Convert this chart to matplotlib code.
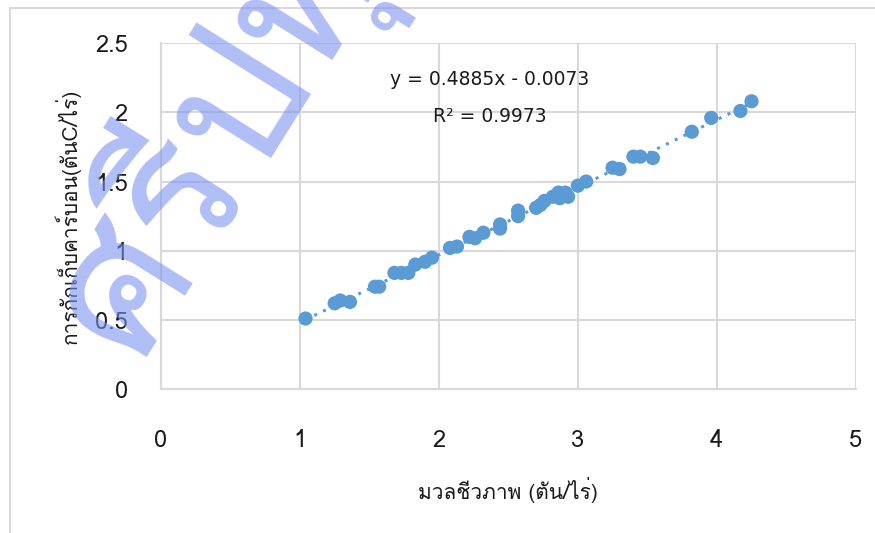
import numpy as np
import matplotlib
matplotlib.use("Agg")
import matplotlib.pyplot as plt
from matplotlib import font_manager
from matplotlib.ft2font import FT2Font
from matplotlib.patches import Rectangle

# biomass (ton/rai) vs carbon storage (ton C/rai)
biomass = [1.04, 1.25, 1.29, 1.36, 1.54, 1.57, 1.68, 1.73, 1.78, 1.83, 1.90, 1.95,
           2.08, 2.13, 2.22, 2.26, 2.32, 2.44, 2.44, 2.57, 2.57, 2.70, 2.73, 2.76,
           2.82, 2.86, 2.87, 2.91, 2.93, 3.00, 3.06, 3.25, 3.30, 3.40, 3.45, 3.54,
           3.82, 3.96, 4.17, 4.25]
carbon = [0.51, 0.62, 0.64, 0.63, 0.74, 0.74, 0.84, 0.84, 0.84, 0.90, 0.92, 0.95,
          1.02, 1.03, 1.10, 1.09, 1.13, 1.16, 1.19, 1.29, 1.25, 1.31, 1.33, 1.36,
          1.39, 1.42, 1.38, 1.42, 1.39, 1.47, 1.50, 1.60, 1.59, 1.68, 1.68, 1.67,
          1.86, 1.96, 2.01, 2.08]
slope, intercept = 0.4885, -0.0073
eq_text = "y = 0.4885x - 0.0073"
r2_text = "R² = 0.9973"
xlabel = "มวลชีวภาพ (ตัน/ไร่)"
ylabel = "การกักเก็บคาร์บอน(ตันC/ไร่)"
watermark = "ศรีปทุม"


def thai_font():
    # pick any installed font that has Thai glyphs
    for f in font_manager.fontManager.ttflist:
        try:
            if 0x0E21 in FT2Font(f.fname).get_charmap():
                return f.name
        except Exception:
            pass
    return "DejaVu Sans"


thai = thai_font()
plt.rcParams["font.family"] = [thai, "DejaVu Sans"]

blue = "#5B9BD5"
grid = "#D9D9D9"
ink = "#1a1a1a"

fig = plt.figure(figsize=(8.75, 5.33), dpi=100)
ax = fig.add_axes([0.184, 0.270, 0.794, 0.649])

# chart area border
fig.patches.append(Rectangle((10/875, -0.1), 1.2, 1 - 8/533 + 0.1, transform=fig.transFigure,
                             fill=False, edgecolor=grid, lw=1.5, zorder=0))

xs = np.array([min(biomass), max(biomass)])
ax.plot(xs, slope*xs + intercept, ls=(0, (1, 2.2)), lw=2.2, color=blue, zorder=2)
ax.scatter(biomass, carbon, s=105, color=blue, edgecolors="none", zorder=3)

ax.set_xlim(0, 5)
ax.set_ylim(0, 2.5)
ax.set_xticks(np.arange(0, 6, 1))
ax.set_yticks(np.arange(0, 3, 0.5))
ax.set_yticklabels(["0", "0.5", "1", "1.5", "2", "2.5"])
ax.grid(True, color=grid, lw=1.5)
ax.set_axisbelow(True)
for s in ax.spines.values():
    s.set_visible(False)
for side in ["left", "bottom"]:
    ax.spines[side].set_visible(True)
    ax.spines[side].set_color(grid)
    ax.spines[side].set_linewidth(1.5)
ax.tick_params(length=0, labelsize=17, colors=ink)
ax.tick_params(axis="x", pad=29)
ax.tick_params(axis="y", pad=24)

ax.set_xlabel(xlabel, fontsize=15, labelpad=18, color=ink)
ax.set_ylabel(ylabel, fontsize=15, labelpad=10, color=ink)

ax.text(0.473, 0.895, eq_text, transform=ax.transAxes, ha="center", va="center",
        fontsize=13.5, family="DejaVu Sans", color=ink)
ax.text(0.473, 0.788, r2_text, transform=ax.transAxes, ha="center", va="center",
        fontsize=13.5, family="DejaVu Sans", color=ink)

fig.text(0.0, 0.27, watermark, rotation=58, fontsize=135,
         color="#7B93F0", alpha=0.6, ha="left", va="bottom", zorder=10)

fig.savefig("out.png", dpi=100)
